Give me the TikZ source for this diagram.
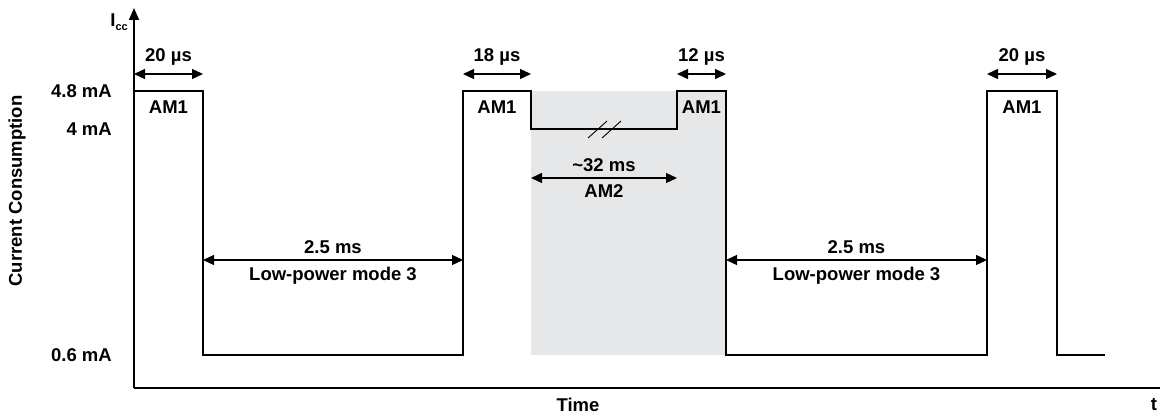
\documentclass[tikz,border=0pt]{standalone}
\usepackage{fontspec}
\setmainfont{Liberation Sans}
\usepackage{tikz}
\usetikzlibrary{arrows.meta}
\usetikzlibrary{calc}

\definecolor{amgray}{RGB}{230,231,232}
\tikzset{
  wave/.style={line width=2.8pt,line join=miter},
  axis/.style={line width=1.8pt},
  dim/.style={line width=1.3pt,{Triangle[length=11pt,width=10pt]}-{Triangle[length=11pt,width=10pt]}},
  lbl/.style={font=\fontsize{18.5}{20}\selectfont\bfseries,inner sep=1pt}
}

\begin{document}
\begin{tikzpicture}[x=1pt,y=-1pt]
\useasboundingbox (0,0) rectangle (1160,414);
% time marks and levels
\coordinate (x0) at (134,0); \coordinate (x1) at (203,0);
\coordinate (x2) at (463,0); \coordinate (x3) at (531,0);
\coordinate (x4) at (677,0); \coordinate (x5) at (726,0);
\coordinate (x6) at (987,0); \coordinate (x7) at (1057,0);
\coordinate (x8) at (1105,0);
\coordinate (hi) at (0,91); \coordinate (mid) at (0,129); \coordinate (lo) at (0,355);
\coordinate (top) at (0,74); \coordinate (row) at (0,260); \coordinate (rowb) at (0,178);
% AM2 window
\fill[amgray] (x3 |- hi) rectangle (x5 |- lo);
% axes
\coordinate (o) at (x0 |- 0,388);
\coordinate (ytip) at (134,8);
\coordinate (xend) at (1160,388);
\draw[axis] (o) -- (xend);
\draw[axis,-{Triangle[length=12pt,width=10pt]}] (o) -- (ytip);
\node[lbl,anchor=east] (icc) at (129,22) {I\raisebox{-0.4ex}{\fontsize{11}{11}\selectfont cc}};
\node[lbl] (t) at (1154,405) {t};
\node[lbl] (time) at (578,405) {Time};
\node[lbl,rotate=90] (cc) at (17,191) {Current Consumption};
% level labels
\node[lbl,anchor=east] (l48) at (113,91) {4.8 mA};
\node[lbl,anchor=east] (l4) at (113,129) {4 mA};
\node[lbl,anchor=east] (l06) at (113,355) {0.6 mA};
% current waveform
\draw[wave] (x0 |- hi) -- (x1 |- hi) -- (x1 |- lo) -- (x2 |- lo) -- (x2 |- hi)
  -- (x3 |- hi) -- (x3 |- mid) -- (x4 |- mid) -- (x4 |- hi) -- (x5 |- hi)
  -- (x5 |- lo) -- (x6 |- lo) -- (x6 |- hi) -- (x7 |- hi) -- (x7 |- lo) -- (x8 |- lo);
% break mark
\draw[line width=0.9pt] (588,138) -- (607,121);
\draw[line width=0.9pt] (602,138) -- (621,121);
% pulse widths
\draw[dim] (x0 |- top) -- node[lbl,above=7pt] (w1) {20 µs} (x1 |- top);
\draw[dim] (x2 |- top) -- node[lbl,above=7pt] (w2) {18 µs} (x3 |- top);
\draw[dim] (x4 |- top) -- node[lbl,above=7pt] (w3) {12 µs} (x5 |- top);
\draw[dim] (x6 |- top) -- node[lbl,above=7pt] (w4) {20 µs} (x7 |- top);
\node[lbl] (am1a) at ($(x0 |- 0,107)!0.5!(x1 |- 0,107)$) {AM1};
\node[lbl] (am1b) at ($(x2 |- 0,107)!0.5!(x3 |- 0,107)$) {AM1};
\node[lbl] (am1c) at ($(x4 |- 0,107)!0.5!(x5 |- 0,107)$) {AM1};
\node[lbl] (am1d) at ($(x6 |- 0,107)!0.5!(x7 |- 0,107)$) {AM1};
% low-power spans
\draw[dim] (x1 |- row) -- node[lbl,above=5pt] (s1) {2.5 ms}
  node[lbl,below=5pt] (m1) {Low-power mode 3} (x2 |- row);
\draw[dim] (x5 |- row) -- node[lbl,above=5pt] (s2) {2.5 ms}
  node[lbl,below=5pt] (m2) {Low-power mode 3} (x6 |- row);
\draw[dim] (x3 |- rowb) -- node[lbl,above=5pt] (s3) {\textasciitilde 32 ms}
  node[lbl,below=5pt] (m3) {AM2} (x4 |- rowb);
\end{tikzpicture}
\end{document}
